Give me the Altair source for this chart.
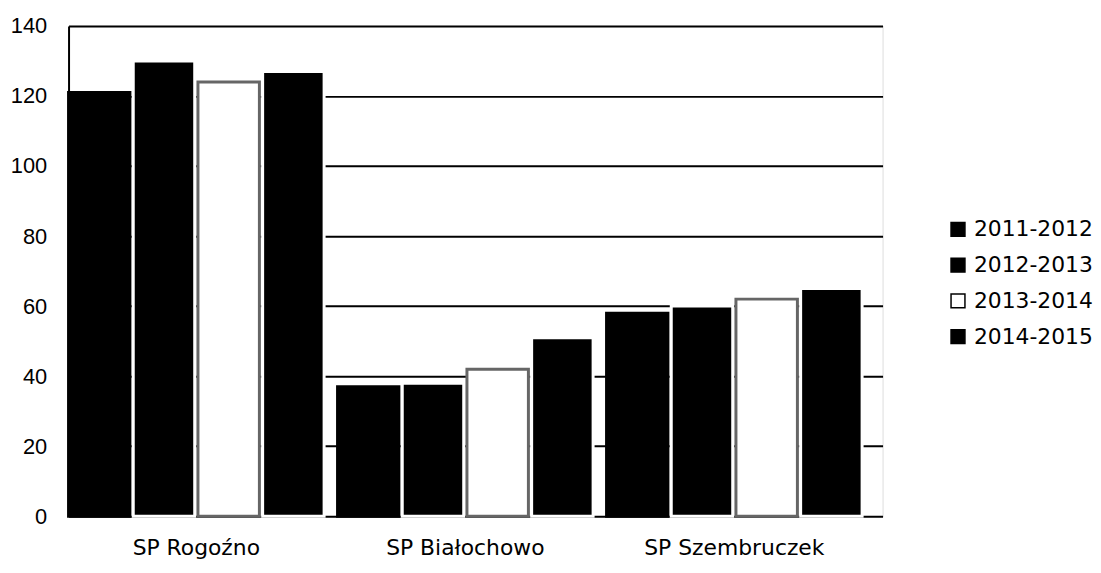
import altair as alt
import pandas as pd

schools = ["SP Rogoźno", "SP Białochowo", "SP Szembruczek"]
years = ["2011-2012", "2012-2013", "2013-2014", "2014-2015"]
values = {
    "2011-2012": [121, 37, 58],
    "2012-2013": [130, 38, 60],
    "2013-2014": [124, 42, 62],
    "2014-2015": [127, 51, 65],
}
fills = ["#000000", "#000000", "#ffffff", "#000000"]
strokes = ["#000000", "#ffffff", "#666666", "#ffffff"]

rows = []
for y in years:
    for s, v in zip(schools, values[y]):
        rows.append({"school": s, "year": y, "edge": y, "value": v})
df = pd.DataFrame(rows)

x_enc = alt.X("school:N", sort=schools, title=None,
              scale=alt.Scale(paddingInner=0.05, paddingOuter=0.038, align=0),
              axis=alt.Axis(labelAngle=0, labelFont="DejaVu Sans", labelFontSize=22,
                            labelLimit=400, labelColor="#000", domain=False, ticks=False,
                            labelPadding=21))
xo_enc = alt.XOffset("year:N", sort=years, scale=alt.Scale(paddingInner=0.05))
y_enc = alt.Y("value:Q", title=None,
              scale=alt.Scale(domain=[0, 140]),
              axis=alt.Axis(values=[0, 20, 40, 60, 80, 100, 120, 140], labelFont="Liberation Sans",
                            labelFontSize=22, labelColor="#000", domain=True, domainColor="#000",
                            domainWidth=2, ticks=False, labelPadding=22,
                            grid=True, gridColor="#000", gridWidth=2))

base = alt.Chart(df)

fill_layer = base.mark_bar(strokeWidth=0).encode(
    x=x_enc, xOffset=xo_enc, y=y_enc,
    color=alt.Color("year:N", sort=years, title=None,
                    scale=alt.Scale(domain=years, range=fills),
                    legend=alt.Legend(orient="none", legendX=885, legendY=194,
                                      symbolType="square", symbolSize=196,
                                      symbolStrokeColor="#000", symbolStrokeWidth=1.5,
                                      labelFont="DejaVu Sans", labelFontSize=22,
                                      labelColor="#000", rowPadding=14, labelOffset=5)),
)

edge_layer = base.mark_bar(strokeWidth=3, fillOpacity=0, fill="#ffffff").encode(
    x=x_enc, xOffset=xo_enc, y=y_enc,
    stroke=alt.Stroke("edge:N", sort=years, scale=alt.Scale(domain=years, range=strokes), legend=None),
)

chart = alt.layer(fill_layer, edge_layer).resolve_scale(
    color="independent", stroke="independent"
).properties(
    width=820, height=494,
    padding={"left": 2, "top": 5, "right": 0, "bottom": 0},
).configure_view(
    stroke="#000", strokeWidth=2
).configure(background="#ffffff")

chart.save("out.html", embed_options={"renderer": "svg", "actions": False})
